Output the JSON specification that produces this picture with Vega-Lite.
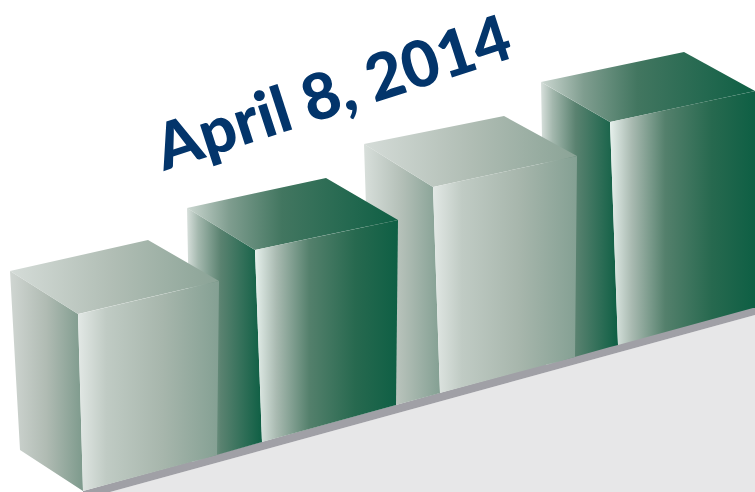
{"$schema":"https://vega.github.io/schema/vega-lite/v6.json","width":755,"height":492,"autosize":{"type":"fit","contains":"padding"},"padding":0,"background":"white","view":{"stroke":null},
"data":{"values":[
{"f":"floor","x":110,"top":492,"bottom":492},{"f":"floor","x":755,"top":315,"bottom":492},
{"f":"band","x":83,"top":491,"bottom":492},{"f":"band","x":110,"top":483.6,"bottom":492},{"f":"band","x":755,"top":306,"bottom":315},
{"f":"s4","x":541,"top":82,"bottom":82},{"f":"s4","x":546,"top":85,"bottom":365},{"f":"s4","x":610,"top":122,"bottom":347},{"f":"s4","x":618,"top":345,"bottom":345},
{"f":"t4","x":541,"top":82,"bottom":82},{"f":"t4","x":610,"top":67.5,"bottom":122},{"f":"t4","x":684,"top":52,"bottom":106.2},{"f":"t4","x":755,"top":91,"bottom":91},
{"f":"m4","x":610,"top":122,"bottom":122},{"f":"m4","x":618,"top":120.3,"bottom":345},{"f":"m4","x":753,"top":91.4,"bottom":308},{"f":"m4","x":755,"top":91,"bottom":308},
{"f":"s3","x":364,"top":144,"bottom":144},{"f":"s3","x":369,"top":147,"bottom":300},{"f":"s3","x":396,"top":164,"bottom":405},{"f":"s3","x":433,"top":187,"bottom":395},{"f":"s3","x":440,"top":393,"bottom":393},
{"f":"t3","x":364,"top":144,"bottom":144},{"f":"t3","x":433,"top":130.2,"bottom":187},{"f":"t3","x":504,"top":116,"bottom":171.7},{"f":"t3","x":577,"top":156,"bottom":156},
{"f":"m3","x":433,"top":187,"bottom":187},{"f":"m3","x":440,"top":185.5,"bottom":393},{"f":"m3","x":575,"top":156.4,"bottom":357},{"f":"m3","x":577,"top":156,"bottom":156},
{"f":"s2","x":187,"top":208,"bottom":208},{"f":"s2","x":192,"top":211,"bottom":462},{"f":"s2","x":255,"top":250,"bottom":444},{"f":"s2","x":262,"top":442,"bottom":442},
{"f":"t2","x":187,"top":208,"bottom":208},{"f":"t2","x":255,"top":193.3,"bottom":250},{"f":"t2","x":326,"top":178,"bottom":235.1},{"f":"t2","x":398,"top":220,"bottom":220},
{"f":"m2","x":255,"top":250,"bottom":250},{"f":"m2","x":262,"top":248.5,"bottom":442},{"f":"m2","x":396,"top":220.4,"bottom":405},{"f":"m2","x":398,"top":220,"bottom":220},
{"f":"s1","x":10,"top":271,"bottom":271},{"f":"s1","x":20,"top":277.3,"bottom":450},{"f":"s1","x":78,"top":314,"bottom":487.7},{"f":"s1","x":83,"top":491,"bottom":491},
{"f":"t1","x":10,"top":271,"bottom":271},{"f":"t1","x":78,"top":255.7,"bottom":314},{"f":"t1","x":148,"top":240,"bottom":297.6},{"f":"t1","x":219,"top":281,"bottom":281},
{"f":"m1","x":78,"top":314,"bottom":314},{"f":"m1","x":83,"top":313,"bottom":491},{"f":"m1","x":217,"top":281.5,"bottom":455},{"f":"m1","x":219,"top":281,"bottom":281},
{"f":"label","x":164,"top":171,"label":"April 8, 2014"}
]},
"encoding":{"x":{"field":"x","type":"quantitative","scale":{"domain":[0,755],"nice":false,"zero":false},"axis":null},"y":{"field":"top","type":"quantitative","scale":{"domain":[492,0],"nice":false,"zero":false},"axis":null}},
"layer":[
{"encoding":{"y2":{"field":"bottom"}},
"layer":[
{"transform":[{"filter":"datum.f==='floor'"}],"mark":{"type":"area","color":"#e7e7e8"}},
{"transform":[{"filter":"datum.f==='band'"}],"mark":{"type":"area","color":"#a0a0a6"}},
{"transform":[{"filter":"datum.f==='s4'"}],"mark":{"type":"area","color":{"gradient":"linear","x1":0,"y1":0,"x2":1,"y2":0,"stops":[{"offset":0,"color":"#d8e0dc"},{"offset":0.15,"color":"#a4b8ae"},{"offset":0.45,"color":"#5a8270"},{"offset":1,"color":"#0e5f44"}]}}},
{"transform":[{"filter":"datum.f==='t4'"}],"mark":{"type":"area","color":{"gradient":"linear","x1":0,"y1":0,"x2":1,"y2":0,"stops":[{"offset":0,"color":"#cdd8d2"},{"offset":0.2,"color":"#7f9d8f"},{"offset":0.45,"color":"#427660"},{"offset":1,"color":"#0e5f44"}]}}},
{"transform":[{"filter":"datum.f==='m4'"}],"mark":{"type":"area","color":{"gradient":"linear","x1":0,"y1":0,"x2":1,"y2":0,"stops":[{"offset":0,"color":"#e6f0ec"},{"offset":0.15,"color":"#a9bab1"},{"offset":0.38,"color":"#54806c"},{"offset":0.7,"color":"#27694f"},{"offset":1,"color":"#0e5f44"}]}}},
{"transform":[{"filter":"datum.f==='s3'"}],"mark":{"type":"area","color":{"gradient":"linear","x1":0,"y1":0,"x2":1,"y2":0,"stops":[{"offset":0,"color":"#d8dfdb"},{"offset":0.5,"color":"#b3bfb7"},{"offset":1,"color":"#84a093"}]}}},
{"transform":[{"filter":"datum.f==='t3'"}],"mark":{"type":"area","color":{"gradient":"linear","x1":0,"y1":0,"x2":1,"y2":0,"stops":[{"offset":0,"color":"#d5dcd8"},{"offset":0.5,"color":"#b0bdb4"},{"offset":1,"color":"#8aa396"}]}}},
{"transform":[{"filter":"datum.f==='m3'"}],"mark":{"type":"area","color":{"gradient":"linear","x1":0,"y1":0,"x2":1,"y2":0,"stops":[{"offset":0,"color":"#e2e8e5"},{"offset":0.2,"color":"#c0cbc4"},{"offset":0.6,"color":"#a7b6ac"},{"offset":1,"color":"#84a093"}]}}},
{"transform":[{"filter":"datum.f==='s2'"}],"mark":{"type":"area","color":{"gradient":"linear","x1":0,"y1":0,"x2":1,"y2":0,"stops":[{"offset":0,"color":"#d8e0dc"},{"offset":0.15,"color":"#a4b8ae"},{"offset":0.45,"color":"#5a8270"},{"offset":1,"color":"#0e5f44"}]}}},
{"transform":[{"filter":"datum.f==='t2'"}],"mark":{"type":"area","color":{"gradient":"linear","x1":0,"y1":0,"x2":1,"y2":0,"stops":[{"offset":0,"color":"#cdd8d2"},{"offset":0.2,"color":"#7f9d8f"},{"offset":0.45,"color":"#427660"},{"offset":1,"color":"#0e5f44"}]}}},
{"transform":[{"filter":"datum.f==='m2'"}],"mark":{"type":"area","color":{"gradient":"linear","x1":0,"y1":0,"x2":1,"y2":0,"stops":[{"offset":0,"color":"#e6f0ec"},{"offset":0.15,"color":"#a9bab1"},{"offset":0.38,"color":"#54806c"},{"offset":0.7,"color":"#27694f"},{"offset":1,"color":"#0e5f44"}]}}},
{"transform":[{"filter":"datum.f==='s1'"}],"mark":{"type":"area","color":{"gradient":"linear","x1":0,"y1":0,"x2":1,"y2":0,"stops":[{"offset":0,"color":"#d0d6d2"},{"offset":0.5,"color":"#b0bbb3"},{"offset":1,"color":"#7d9a8c"}]}}},
{"transform":[{"filter":"datum.f==='t1'"}],"mark":{"type":"area","color":{"gradient":"linear","x1":0,"y1":0,"x2":1,"y2":0,"stops":[{"offset":0,"color":"#d5dcd8"},{"offset":0.5,"color":"#b0bdb4"},{"offset":1,"color":"#8aa396"}]}}},
{"transform":[{"filter":"datum.f==='m1'"}],"mark":{"type":"area","color":{"gradient":"linear","x1":0,"y1":0,"x2":1,"y2":0,"stops":[{"offset":0,"color":"#e2e8e5"},{"offset":0.2,"color":"#c0cbc4"},{"offset":0.6,"color":"#a7b6ac"},{"offset":1,"color":"#84a093"}]}}}
]},
{"transform":[{"filter":"datum.f==='label'"}],"mark":{"type":"text","font":"Lato","fontWeight":900,"fontSize":64,"angle":-18,"align":"left","baseline":"alphabetic","color":"#03356b"},"encoding":{"text":{"field":"label"}}}
]}
